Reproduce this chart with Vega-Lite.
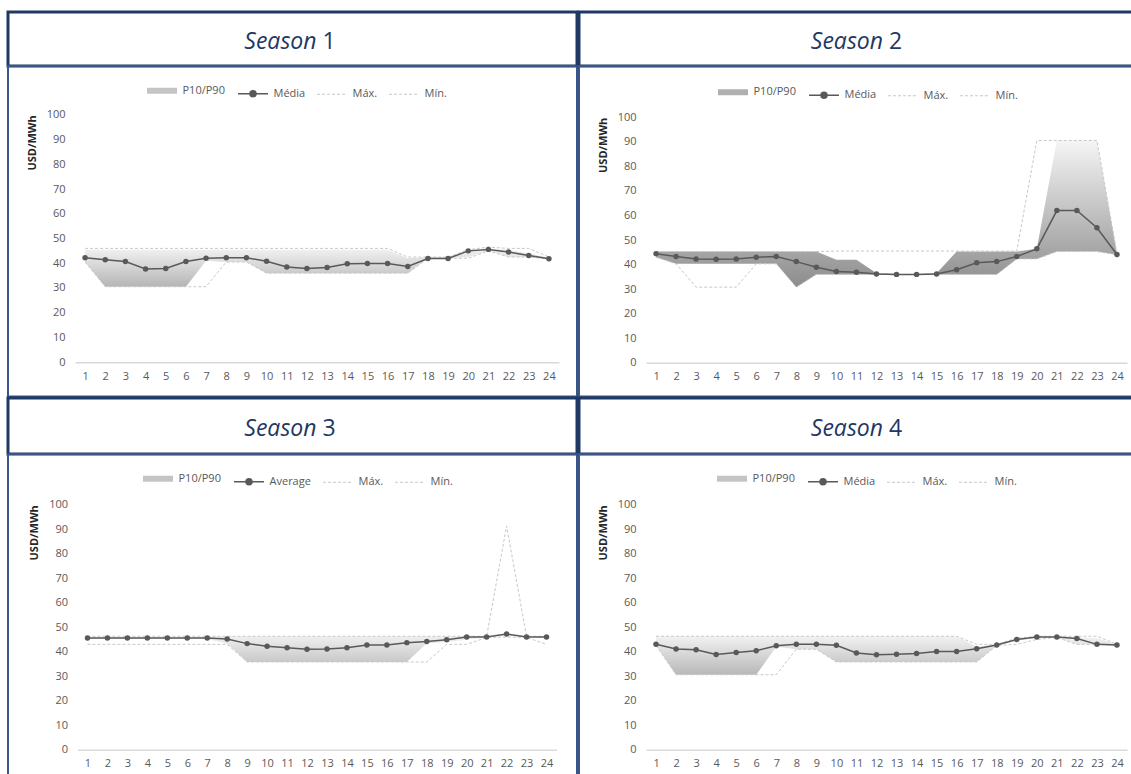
{
  "$schema": "https://vega.github.io/schema/vega-lite/v6.json",
  "padding": {"left": 6, "top": 10, "right": 0, "bottom": 0},
  "background": "white",
  "spacing": -2.5,
  "resolve": {"scale": {"color": "independent", "x": "independent", "y": "independent"}, "legend": {"color": "independent"}},
  "config": {"view": {"stroke": null}, "font": "Open Sans",
    "axisY": {"domain": false, "ticks": false, "tickSize": 0, "grid": false, "labelPadding": 10, "labelOverlap": false, "labelFont": "Open Sans", "labelFontSize": 11, "labelColor": "#595959", "titleFont": "Open Sans", "titleFontSize": 11, "titleFontWeight": "bold", "titleColor": "#262626", "titleAnchor": "end", "titlePadding": 9},
    "axisX": {"domainColor": "#D9D9D9", "domainWidth": 1.5, "ticks": false, "tickSize": 0, "grid": false, "labelPadding": 8, "labelFont": "Open Sans", "labelFontSize": 11, "labelColor": "#595959", "labelFlush": false, "labelOverlap": false},
    "legend": {"orient": "none", "direction": "horizontal", "symbolType": "stroke", "symbolSize": 900, "symbolStrokeWidth": 1.5, "labelFont": "Open Sans", "labelFontSize": 11, "labelColor": "#595959", "labelOffset": 15, "columnPadding": 9, "padding": 0}
  },
  "datasets": {
    "s1": [
      {"h": 1, "p10": 40.5, "p90": 45.5, "media": 42.2, "max": 46, "min": 40.5},
      {"h": 2, "p10": 30.5, "p90": 45.5, "media": 41.4, "max": 46, "min": 30.5},
      {"h": 3, "p10": 30.5, "p90": 45.5, "media": 40.7, "max": 46, "min": 30.5},
      {"h": 4, "p10": 30.5, "p90": 45.5, "media": 37.7, "max": 46, "min": 30.5},
      {"h": 5, "p10": 30.5, "p90": 45.5, "media": 37.9, "max": 46, "min": 30.5},
      {"h": 6, "p10": 30.5, "p90": 45.5, "media": 40.7, "max": 46, "min": 30.5},
      {"h": 7, "p10": 41, "p90": 45.5, "media": 42.0, "max": 46, "min": 30.5},
      {"h": 8, "p10": 40.5, "p90": 45.5, "media": 42.2, "max": 46, "min": 40.5},
      {"h": 9, "p10": 40.5, "p90": 45.5, "media": 42.2, "max": 46, "min": 40.5},
      {"h": 10, "p10": 36, "p90": 45.5, "media": 40.8, "max": 46, "min": 36},
      {"h": 11, "p10": 36, "p90": 45.5, "media": 38.5, "max": 46, "min": 36},
      {"h": 12, "p10": 36, "p90": 45.5, "media": 37.9, "max": 46, "min": 36},
      {"h": 13, "p10": 36, "p90": 45.5, "media": 38.3, "max": 46, "min": 36},
      {"h": 14, "p10": 36, "p90": 45.5, "media": 39.8, "max": 46, "min": 36},
      {"h": 15, "p10": 36, "p90": 45.5, "media": 39.9, "max": 46, "min": 36},
      {"h": 16, "p10": 36, "p90": 45.5, "media": 39.9, "max": 46, "min": 36},
      {"h": 17, "p10": 36, "p90": 42, "media": 38.7, "max": 42.5, "min": 36},
      {"h": 18, "p10": 42, "p90": 42.5, "media": 41.9, "max": 42.5, "min": 42},
      {"h": 19, "p10": 42, "p90": 42.5, "media": 41.9, "max": 42.5, "min": 42},
      {"h": 20, "p10": 42.5, "p90": 45.5, "media": 45.0, "max": 45.5, "min": 42},
      {"h": 21, "p10": 45, "p90": 46, "media": 45.6, "max": 46.5, "min": 45},
      {"h": 22, "p10": 42.5, "p90": 45.5, "media": 44.5, "max": 46, "min": 42.5},
      {"h": 23, "p10": 42.5, "p90": 44, "media": 43.1, "max": 46, "min": 42.5},
      {"h": 24, "p10": 41.8, "p90": 42.2, "media": 41.8, "max": 42.5, "min": 41.8}
    ],
    "s2": [
      {"h": 1, "p10": 43, "p90": 45.3, "media": 44.4, "max": 45.3, "min": 43},
      {"h": 2, "p10": 40.3, "p90": 45.3, "media": 43.3, "max": 45.3, "min": 40.3},
      {"h": 3, "p10": 40.3, "p90": 45.3, "media": 42.3, "max": 45.3, "min": 30.8},
      {"h": 4, "p10": 40.3, "p90": 45.3, "media": 42.2, "max": 45.3, "min": 30.8},
      {"h": 5, "p10": 40.3, "p90": 45.3, "media": 42.3, "max": 45.3, "min": 30.8},
      {"h": 6, "p10": 40.3, "p90": 45.3, "media": 43.0, "max": 45.3, "min": 40.3},
      {"h": 7, "p10": 40.3, "p90": 45.3, "media": 43.3, "max": 45.3, "min": 40.3},
      {"h": 8, "p10": 30.8, "p90": 45.3, "media": 41.2, "max": 45.3, "min": 30.8},
      {"h": 9, "p10": 36, "p90": 45.3, "media": 38.9, "max": 45.3, "min": 36},
      {"h": 10, "p10": 36, "p90": 42, "media": 37.2, "max": 45.5, "min": 36},
      {"h": 11, "p10": 36, "p90": 42, "media": 36.9, "max": 45.5, "min": 36},
      {"h": 12, "p10": 36, "p90": 36.5, "media": 36.2, "max": 45.5, "min": 36},
      {"h": 13, "p10": 36, "p90": 36.2, "media": 36.0, "max": 45.5, "min": 36},
      {"h": 14, "p10": 36, "p90": 36.2, "media": 36.0, "max": 45.5, "min": 36},
      {"h": 15, "p10": 36, "p90": 36.5, "media": 36.2, "max": 45.5, "min": 36},
      {"h": 16, "p10": 36, "p90": 45.3, "media": 37.9, "max": 45.5, "min": 36},
      {"h": 17, "p10": 36, "p90": 45.3, "media": 40.7, "max": 45.5, "min": 36},
      {"h": 18, "p10": 36, "p90": 45.3, "media": 41.2, "max": 45.5, "min": 36},
      {"h": 19, "p10": 42.3, "p90": 45.3, "media": 43.3, "max": 45.5, "min": 42.3},
      {"h": 20, "p10": 42.3, "p90": 46.4, "media": 46.4, "max": 90.5, "min": 42.3},
      {"h": 21, "p10": 45.3, "p90": 90.5, "media": 62.0, "max": 90.5, "min": 45.3},
      {"h": 22, "p10": 45.3, "p90": 90.5, "media": 62.0, "max": 90.5, "min": 45.3},
      {"h": 23, "p10": 45.3, "p90": 90.5, "media": 55.0, "max": 90.5, "min": 45.3},
      {"h": 24, "p10": 44, "p90": 44.5, "media": 44.1, "max": 44.5, "min": 44}
    ],
    "s3": [
      {"h": 1, "p10": 45.2, "p90": 46, "media": 45.6, "max": 46.3, "min": 43},
      {"h": 2, "p10": 45.2, "p90": 46, "media": 45.6, "max": 46.3, "min": 43},
      {"h": 3, "p10": 45.2, "p90": 46, "media": 45.6, "max": 46.3, "min": 43},
      {"h": 4, "p10": 45.2, "p90": 46, "media": 45.6, "max": 46.3, "min": 43},
      {"h": 5, "p10": 45.2, "p90": 46, "media": 45.6, "max": 46.3, "min": 43},
      {"h": 6, "p10": 45.2, "p90": 46, "media": 45.6, "max": 46.3, "min": 43},
      {"h": 7, "p10": 45.2, "p90": 46, "media": 45.6, "max": 46.3, "min": 43},
      {"h": 8, "p10": 43.3, "p90": 46.3, "media": 45.2, "max": 46.3, "min": 43},
      {"h": 9, "p10": 35.8, "p90": 46.3, "media": 43.3, "max": 46.3, "min": 35.8},
      {"h": 10, "p10": 35.8, "p90": 46.3, "media": 42.2, "max": 46.3, "min": 35.8},
      {"h": 11, "p10": 35.8, "p90": 46.3, "media": 41.6, "max": 46.3, "min": 35.8},
      {"h": 12, "p10": 35.8, "p90": 46.3, "media": 41.0, "max": 46.3, "min": 35.8},
      {"h": 13, "p10": 35.8, "p90": 46.3, "media": 41.1, "max": 46.3, "min": 35.8},
      {"h": 14, "p10": 35.8, "p90": 46.3, "media": 41.6, "max": 46.3, "min": 35.8},
      {"h": 15, "p10": 35.8, "p90": 46.3, "media": 42.7, "max": 46.3, "min": 35.8},
      {"h": 16, "p10": 35.8, "p90": 46.3, "media": 42.7, "max": 46.3, "min": 35.8},
      {"h": 17, "p10": 35.8, "p90": 46.3, "media": 43.7, "max": 46.3, "min": 35.8},
      {"h": 18, "p10": 43.5, "p90": 46.3, "media": 44.2, "max": 46.3, "min": 35.8},
      {"h": 19, "p10": 44, "p90": 46.3, "media": 44.9, "max": 46.3, "min": 43},
      {"h": 20, "p10": 45, "p90": 46.3, "media": 46.0, "max": 46.3, "min": 43},
      {"h": 21, "p10": 45.8, "p90": 46.3, "media": 46.0, "max": 46.3, "min": 45.8},
      {"h": 22, "p10": 46.5, "p90": 47.5, "media": 47.2, "max": 91.3, "min": 46},
      {"h": 23, "p10": 45.8, "p90": 46.3, "media": 46.0, "max": 46.3, "min": 45.8},
      {"h": 24, "p10": 45.5, "p90": 46.3, "media": 46.0, "max": 46.3, "min": 43}
    ],
    "s4": [
      {"h": 1, "p10": 42.6, "p90": 46.3, "media": 43.0, "max": 46.3, "min": 42.6},
      {"h": 2, "p10": 30.6, "p90": 46.3, "media": 41.1, "max": 46.3, "min": 30.6},
      {"h": 3, "p10": 30.6, "p90": 46.3, "media": 40.8, "max": 46.3, "min": 30.6},
      {"h": 4, "p10": 30.6, "p90": 46.3, "media": 38.9, "max": 46.3, "min": 30.6},
      {"h": 5, "p10": 30.6, "p90": 46.3, "media": 39.7, "max": 46.3, "min": 30.6},
      {"h": 6, "p10": 30.6, "p90": 46.3, "media": 40.4, "max": 46.3, "min": 30.6},
      {"h": 7, "p10": 42, "p90": 46.3, "media": 42.4, "max": 46.3, "min": 30.6},
      {"h": 8, "p10": 41, "p90": 46.3, "media": 43.0, "max": 46.3, "min": 41},
      {"h": 9, "p10": 41, "p90": 46.3, "media": 43.0, "max": 46.3, "min": 41},
      {"h": 10, "p10": 35.8, "p90": 46.3, "media": 42.6, "max": 46.3, "min": 35.8},
      {"h": 11, "p10": 35.8, "p90": 46.3, "media": 39.5, "max": 46.3, "min": 35.8},
      {"h": 12, "p10": 35.8, "p90": 46.3, "media": 38.8, "max": 46.3, "min": 35.8},
      {"h": 13, "p10": 35.8, "p90": 46.3, "media": 39.0, "max": 46.3, "min": 35.8},
      {"h": 14, "p10": 35.8, "p90": 46.3, "media": 39.3, "max": 46.3, "min": 35.8},
      {"h": 15, "p10": 35.8, "p90": 46.3, "media": 40.1, "max": 46.3, "min": 35.8},
      {"h": 16, "p10": 35.8, "p90": 46.3, "media": 40.1, "max": 46.3, "min": 35.8},
      {"h": 17, "p10": 35.8, "p90": 42, "media": 41.2, "max": 43, "min": 35.8},
      {"h": 18, "p10": 42.5, "p90": 43, "media": 42.7, "max": 43, "min": 42.5},
      {"h": 19, "p10": 44.5, "p90": 45.5, "media": 45.0, "max": 45.5, "min": 43},
      {"h": 20, "p10": 45.5, "p90": 46.3, "media": 46.0, "max": 46.3, "min": 45},
      {"h": 21, "p10": 45.8, "p90": 46.3, "media": 46.0, "max": 46.3, "min": 45.8},
      {"h": 22, "p10": 43, "p90": 46, "media": 45.4, "max": 46.3, "min": 43},
      {"h": 23, "p10": 43, "p90": 45.5, "media": 43.0, "max": 46.3, "min": 43},
      {"h": 24, "p10": 42.7, "p90": 43, "media": 42.7, "max": 43, "min": 42.7}
    ]
  },
  "vconcat": [
    {
      "spacing": -3,
      "resolve": {"scale": {"color": "independent", "x": "independent", "y": "independent"}, "legend": {"color": "independent"}},
      "hconcat": [
        {
          "spacing": 0, "bounds": "flush",
          "resolve": {"scale": {"color": "independent", "x": "independent", "y": "independent"}, "legend": {"color": "independent"}},
          "vconcat": [
            {
              "width": 569, "height": 54,
              "view": {"stroke": "#1F3864", "strokeWidth": 3},
              "data": {"values": [{"a": "Season", "b": "1"}]},
              "layer": [
                {"mark": {"type": "text", "align": "right", "baseline": "alphabetic", "dx": 24, "dy": 10, "fontStyle": "italic", "font": "Open Sans", "fontSize": 23, "color": "#1F3864"}, "encoding": {"text": {"field": "a"}}},
                {"mark": {"type": "text", "align": "left", "baseline": "alphabetic", "dx": 30, "dy": 10, "font": "Open Sans", "fontSize": 23, "color": "#1F3864"}, "encoding": {"text": {"field": "b"}}}
              ]
            },
            {
              "width": 569, "height": 330.5,
              "view": {"stroke": "#3A5688", "strokeWidth": 2},
              "data": {"name": "s1"},
              "encoding": {"x": {"field": "h", "type": "quantitative", "scale": {"domain": [0.5, 24.5], "range": [67, 551], "nice": false, "zero": false}, "axis": {"values": [1,2,3,4,5,6,7,8,9,10,11,12,13,14,15,16,17,18,19,20,21,22,23,24], "format": "d", "offset": -34.3, "title": null}}},
              "layer": [
                {"mark": {"type": "area", "color": {"gradient": "linear", "x1": 0, "y1": 1, "x2": 0, "y2": 0, "stops": [{"offset": 0, "color": "#B5B5B5"}, {"offset": 1, "color": "#F2F2F2"}]}},
                 "encoding": {"y": {"field": "p90", "type": "quantitative", "title": "USD/MWh", "scale": {"domain": [0, 100], "range": [296.2, 48.8], "nice": false, "zero": false}, "axis": {"values": [0,10,20,30,40,50,60,70,80,90,100], "offset": -67}}, "y2": {"field": "p10"}}},
                {"mark": {"type": "line", "strokeDash": [3, 2], "strokeWidth": 1}, "encoding": {"y": {"field": "max", "type": "quantitative", "title": "USD/MWh", "axis": {"values": [0,10,20,30,40,50,60,70,80,90,100], "offset": -67}}, "color": {"datum": "Máx.", "type": "nominal", "scale": {"domain": ["P10/P90", "Média", "Máx.", "Mín."], "range": ["#C4C4C4", "#595959", "#C8C8C8", "#C8C8C8"]}}}},
                {"mark": {"type": "line", "strokeDash": [3, 2], "strokeWidth": 1}, "encoding": {"y": {"field": "min", "type": "quantitative", "title": "USD/MWh", "axis": {"values": [0,10,20,30,40,50,60,70,80,90,100], "offset": -67}}, "color": {"datum": "Mín.", "type": "nominal", "scale": {"domain": ["P10/P90", "Média", "Máx.", "Mín."], "range": ["#C4C4C4", "#595959", "#C8C8C8", "#C8C8C8"]}}}},
                {"mark": {"type": "line", "strokeWidth": 1.5, "point": {"filled": true, "size": 30}}, "encoding": {"y": {"field": "media", "type": "quantitative", "title": "USD/MWh", "axis": {"values": [0,10,20,30,40,50,60,70,80,90,100], "offset": -67}}, "color": {"datum": "Média", "type": "nominal", "scale": {"domain": ["P10/P90", "Média", "Máx.", "Mín."], "range": ["#C4C4C4", "#595959", "#C8C8C8", "#C8C8C8"]},
                  "legend": {"legendX": 148.5, "legendY": 19, "title": null,
                    "encode": {"symbols": {"update": {
                      "shape": {"signal": "(datum.value === 'Média' || datum.value === 'Average') ? 'M-1,0H1M-0.2,0A0.2,0.2 0 1,0 0.2,0A0.2,0.2 0 1,0 -0.2,0Z' : 'stroke'"},
                      "strokeWidth": {"signal": "datum.value === 'P10/P90' ? 6 : ((datum.value === 'Máx.' || datum.value === 'Mín.') ? 1 : 1.5)"},
                      "strokeDash": {"signal": "(datum.value === 'Máx.' || datum.value === 'Mín.') ? [3, 2] : [100, 0]"},
                      "fill": {"signal": "(datum.value === 'Média' || datum.value === 'Average') ? '#595959' : 'transparent'"}}}}}}}}
              ]
            }
          ]
        },
        {
          "spacing": 0, "bounds": "flush",
          "resolve": {"scale": {"color": "independent", "x": "independent", "y": "independent"}, "legend": {"color": "independent"}},
          "vconcat": [
            {
              "width": 560, "height": 54,
              "view": {"stroke": "#1F3864", "strokeWidth": 3},
              "data": {"values": [{"a": "Season", "b": "2"}]},
              "layer": [
                {"mark": {"type": "text", "align": "right", "baseline": "alphabetic", "dx": 24, "dy": 10, "fontStyle": "italic", "font": "Open Sans", "fontSize": 23, "color": "#1F3864"}, "encoding": {"text": {"field": "a"}}},
                {"mark": {"type": "text", "align": "left", "baseline": "alphabetic", "dx": 30, "dy": 10, "font": "Open Sans", "fontSize": 23, "color": "#1F3864"}, "encoding": {"text": {"field": "b"}}}
              ]
            },
            {
              "width": 560, "height": 330.5,
              "view": {"stroke": "#3A5688", "strokeWidth": 2},
              "data": {"name": "s2"},
              "encoding": {"x": {"field": "h", "type": "quantitative", "scale": {"domain": [0.5, 24.5], "range": [67, 548], "nice": false, "zero": false}, "axis": {"values": [1,2,3,4,5,6,7,8,9,10,11,12,13,14,15,16,17,18,19,20,21,22,23,24], "format": "d", "offset": -33.7, "title": null}}},
              "layer": [
                {"mark": {"type": "area", "color": {"gradient": "linear", "x1": 0, "y1": 1, "x2": 0, "y2": 0, "stops": [{"offset": 0, "color": "#8C8C8C"}, {"offset": 1, "color": "#F5F5F5"}]}},
                 "encoding": {"y": {"field": "p90", "type": "quantitative", "title": "USD/MWh", "scale": {"domain": [0, 100], "range": [296.8, 51.2], "nice": false, "zero": false}, "axis": {"values": [0,10,20,30,40,50,60,70,80,90,100], "offset": -67}}, "y2": {"field": "p10"}}},
                {"mark": {"type": "line", "strokeDash": [3, 2], "strokeWidth": 1}, "encoding": {"y": {"field": "max", "type": "quantitative", "title": "USD/MWh", "axis": {"values": [0,10,20,30,40,50,60,70,80,90,100], "offset": -67}}, "color": {"datum": "Máx.", "type": "nominal", "scale": {"domain": ["P10/P90", "Média", "Máx.", "Mín."], "range": ["#B0B0B0", "#595959", "#C8C8C8", "#C8C8C8"]}}}},
                {"mark": {"type": "line", "strokeDash": [3, 2], "strokeWidth": 1}, "encoding": {"y": {"field": "min", "type": "quantitative", "title": "USD/MWh", "axis": {"values": [0,10,20,30,40,50,60,70,80,90,100], "offset": -67}}, "color": {"datum": "Mín.", "type": "nominal", "scale": {"domain": ["P10/P90", "Média", "Máx.", "Mín."], "range": ["#B0B0B0", "#595959", "#C8C8C8", "#C8C8C8"]}}}},
                {"mark": {"type": "line", "strokeWidth": 1.5, "point": {"filled": true, "size": 30}}, "encoding": {"y": {"field": "media", "type": "quantitative", "title": "USD/MWh", "axis": {"values": [0,10,20,30,40,50,60,70,80,90,100], "offset": -67}}, "color": {"datum": "Média", "type": "nominal", "scale": {"domain": ["P10/P90", "Média", "Máx.", "Mín."], "range": ["#B0B0B0", "#595959", "#C8C8C8", "#C8C8C8"]},
                  "legend": {"legendX": 148.5, "legendY": 20.5, "title": null,
                    "encode": {"symbols": {"update": {
                      "shape": {"signal": "(datum.value === 'Média' || datum.value === 'Average') ? 'M-1,0H1M-0.2,0A0.2,0.2 0 1,0 0.2,0A0.2,0.2 0 1,0 -0.2,0Z' : 'stroke'"},
                      "strokeWidth": {"signal": "datum.value === 'P10/P90' ? 6 : ((datum.value === 'Máx.' || datum.value === 'Mín.') ? 1 : 1.5)"},
                      "strokeDash": {"signal": "(datum.value === 'Máx.' || datum.value === 'Mín.') ? [3, 2] : [100, 0]"},
                      "fill": {"signal": "(datum.value === 'Média' || datum.value === 'Average') ? '#595959' : 'transparent'"}}}}}}}}
              ]
            }
          ]
        }
      ]
    },
    {
      "spacing": -3,
      "resolve": {"scale": {"color": "independent", "x": "independent", "y": "independent"}, "legend": {"color": "independent"}},
      "hconcat": [
        {
          "spacing": 0, "bounds": "flush",
          "resolve": {"scale": {"color": "independent", "x": "independent", "y": "independent"}, "legend": {"color": "independent"}},
          "vconcat": [
            {
              "width": 569, "height": 56,
              "view": {"stroke": "#1F3864", "strokeWidth": 3},
              "data": {"values": [{"a": "Season", "b": "3"}]},
              "layer": [
                {"mark": {"type": "text", "align": "right", "baseline": "alphabetic", "dx": 24, "dy": 10, "fontStyle": "italic", "font": "Open Sans", "fontSize": 23, "color": "#1F3864"}, "encoding": {"text": {"field": "a"}}},
                {"mark": {"type": "text", "align": "left", "baseline": "alphabetic", "dx": 30, "dy": 10, "font": "Open Sans", "fontSize": 23, "color": "#1F3864"}, "encoding": {"text": {"field": "b"}}}
              ]
            },
            {
              "width": 569, "height": 331,
              "view": {"stroke": "#3A5688", "strokeWidth": 2},
              "data": {"name": "s3"},
              "encoding": {"x": {"field": "h", "type": "quantitative", "scale": {"domain": [0.5, 24.5], "range": [69.5, 548.5], "nice": false, "zero": false}, "axis": {"values": [1,2,3,4,5,6,7,8,9,10,11,12,13,14,15,16,17,18,19,20,21,22,23,24], "format": "d", "offset": -35.3, "title": null}}},
              "layer": [
                {"mark": {"type": "area", "color": {"gradient": "linear", "x1": 0, "y1": 1, "x2": 0, "y2": 0, "stops": [{"offset": 0, "color": "#C8C8C8"}, {"offset": 1, "color": "#F4F4F4"}]}},
                 "encoding": {"y": {"field": "p90", "type": "quantitative", "title": "USD/MWh", "scale": {"domain": [0, 100], "range": [295.7, 50.7], "nice": false, "zero": false}, "axis": {"values": [0,10,20,30,40,50,60,70,80,90,100], "offset": -69.5}}, "y2": {"field": "p10"}}},
                {"mark": {"type": "line", "strokeDash": [3, 2], "strokeWidth": 1}, "encoding": {"y": {"field": "max", "type": "quantitative", "title": "USD/MWh", "axis": {"values": [0,10,20,30,40,50,60,70,80,90,100], "offset": -69.5}}, "color": {"datum": "Máx.", "type": "nominal", "scale": {"domain": ["P10/P90", "Average", "Máx.", "Mín."], "range": ["#C4C4C4", "#595959", "#C8C8C8", "#C8C8C8"]}}}},
                {"mark": {"type": "line", "strokeDash": [3, 2], "strokeWidth": 1}, "encoding": {"y": {"field": "min", "type": "quantitative", "title": "USD/MWh", "axis": {"values": [0,10,20,30,40,50,60,70,80,90,100], "offset": -69.5}}, "color": {"datum": "Mín.", "type": "nominal", "scale": {"domain": ["P10/P90", "Average", "Máx.", "Mín."], "range": ["#C4C4C4", "#595959", "#C8C8C8", "#C8C8C8"]}}}},
                {"mark": {"type": "line", "strokeWidth": 1.5, "point": {"filled": true, "size": 30}}, "encoding": {"y": {"field": "media", "type": "quantitative", "title": "USD/MWh", "axis": {"values": [0,10,20,30,40,50,60,70,80,90,100], "offset": -69.5}}, "color": {"datum": "Average", "type": "nominal", "scale": {"domain": ["P10/P90", "Average", "Máx.", "Mín."], "range": ["#C4C4C4", "#595959", "#C8C8C8", "#C8C8C8"]},
                  "legend": {"legendX": 144.5, "legendY": 19, "title": null,
                    "encode": {"symbols": {"update": {
                      "shape": {"signal": "(datum.value === 'Média' || datum.value === 'Average') ? 'M-1,0H1M-0.2,0A0.2,0.2 0 1,0 0.2,0A0.2,0.2 0 1,0 -0.2,0Z' : 'stroke'"},
                      "strokeWidth": {"signal": "datum.value === 'P10/P90' ? 6 : ((datum.value === 'Máx.' || datum.value === 'Mín.') ? 1 : 1.5)"},
                      "strokeDash": {"signal": "(datum.value === 'Máx.' || datum.value === 'Mín.') ? [3, 2] : [100, 0]"},
                      "fill": {"signal": "(datum.value === 'Média' || datum.value === 'Average') ? '#595959' : 'transparent'"}}}}}}}}
              ]
            }
          ]
        },
        {
          "spacing": 0, "bounds": "flush",
          "resolve": {"scale": {"color": "independent", "x": "independent", "y": "independent"}, "legend": {"color": "independent"}},
          "vconcat": [
            {
              "width": 560, "height": 56,
              "view": {"stroke": "#1F3864", "strokeWidth": 3},
              "data": {"values": [{"a": "Season", "b": "4"}]},
              "layer": [
                {"mark": {"type": "text", "align": "right", "baseline": "alphabetic", "dx": 24, "dy": 10, "fontStyle": "italic", "font": "Open Sans", "fontSize": 23, "color": "#1F3864"}, "encoding": {"text": {"field": "a"}}},
                {"mark": {"type": "text", "align": "left", "baseline": "alphabetic", "dx": 30, "dy": 10, "font": "Open Sans", "fontSize": 23, "color": "#1F3864"}, "encoding": {"text": {"field": "b"}}}
              ]
            },
            {
              "width": 560, "height": 331,
              "view": {"stroke": "#3A5688", "strokeWidth": 2},
              "data": {"name": "s4"},
              "encoding": {"x": {"field": "h", "type": "quantitative", "scale": {"domain": [0.5, 24.5], "range": [67, 548], "nice": false, "zero": false}, "axis": {"values": [1,2,3,4,5,6,7,8,9,10,11,12,13,14,15,16,17,18,19,20,21,22,23,24], "format": "d", "offset": -35.3, "title": null}}},
              "layer": [
                {"mark": {"type": "area", "color": {"gradient": "linear", "x1": 0, "y1": 1, "x2": 0, "y2": 0, "stops": [{"offset": 0, "color": "#B8B8B8"}, {"offset": 1, "color": "#F2F2F2"}]}},
                 "encoding": {"y": {"field": "p90", "type": "quantitative", "title": "USD/MWh", "scale": {"domain": [0, 100], "range": [295.7, 50.7], "nice": false, "zero": false}, "axis": {"values": [0,10,20,30,40,50,60,70,80,90,100], "offset": -67}}, "y2": {"field": "p10"}}},
                {"mark": {"type": "line", "strokeDash": [3, 2], "strokeWidth": 1}, "encoding": {"y": {"field": "max", "type": "quantitative", "title": "USD/MWh", "axis": {"values": [0,10,20,30,40,50,60,70,80,90,100], "offset": -67}}, "color": {"datum": "Máx.", "type": "nominal", "scale": {"domain": ["P10/P90", "Média", "Máx.", "Mín."], "range": ["#C4C4C4", "#595959", "#C8C8C8", "#C8C8C8"]}}}},
                {"mark": {"type": "line", "strokeDash": [3, 2], "strokeWidth": 1}, "encoding": {"y": {"field": "min", "type": "quantitative", "title": "USD/MWh", "axis": {"values": [0,10,20,30,40,50,60,70,80,90,100], "offset": -67}}, "color": {"datum": "Mín.", "type": "nominal", "scale": {"domain": ["P10/P90", "Média", "Máx.", "Mín."], "range": ["#C4C4C4", "#595959", "#C8C8C8", "#C8C8C8"]}}}},
                {"mark": {"type": "line", "strokeWidth": 1.5, "point": {"filled": true, "size": 30}}, "encoding": {"y": {"field": "media", "type": "quantitative", "title": "USD/MWh", "axis": {"values": [0,10,20,30,40,50,60,70,80,90,100], "offset": -67}}, "color": {"datum": "Média", "type": "nominal", "scale": {"domain": ["P10/P90", "Média", "Máx.", "Mín."], "range": ["#C4C4C4", "#595959", "#C8C8C8", "#C8C8C8"]},
                  "legend": {"legendX": 147.5, "legendY": 19, "title": null,
                    "encode": {"symbols": {"update": {
                      "shape": {"signal": "(datum.value === 'Média' || datum.value === 'Average') ? 'M-1,0H1M-0.2,0A0.2,0.2 0 1,0 0.2,0A0.2,0.2 0 1,0 -0.2,0Z' : 'stroke'"},
                      "strokeWidth": {"signal": "datum.value === 'P10/P90' ? 6 : ((datum.value === 'Máx.' || datum.value === 'Mín.') ? 1 : 1.5)"},
                      "strokeDash": {"signal": "(datum.value === 'Máx.' || datum.value === 'Mín.') ? [3, 2] : [100, 0]"},
                      "fill": {"signal": "(datum.value === 'Média' || datum.value === 'Average') ? '#595959' : 'transparent'"}}}}}}}}
              ]
            }
          ]
        }
      ]
    }
  ]
}
